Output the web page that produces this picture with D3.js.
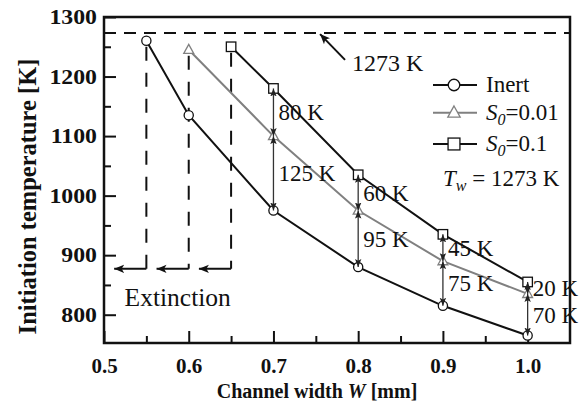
<!DOCTYPE html>
<html>
<head>
<meta charset="utf-8">
<script src="https://cdn.jsdelivr.net/npm/d3@7"></script>
<style>
  html, body { margin: 0; padding: 0; background: #fff; }
  svg { display: block; font-family: "Liberation Serif", "Times New Roman", serif; }
</style>
</head>
<body>
<svg id="chart" width="585" height="405"></svg>
<script>
// Channel widths W [mm] and initiation temperatures [K]
const widthsInert = [0.55, 0.6, 0.7, 0.8, 0.9, 1.0];
const tempInert   = [1260, 1135, 975, 880, 815, 765];
const widthsS001  = [0.6, 0.7, 0.8, 0.9, 1.0];
const tempS001    = [1245, 1100, 975, 890, 835];
const widthsS01   = [0.65, 0.7, 0.8, 0.9, 1.0];
const tempS01     = [1250, 1180, 1035, 935, 855];

const wallTemp = 1273;
const extinctionWidths = [0.55, 0.6, 0.65];
const extinctionTemps  = [1260, 1245, 1250];
const extinctionLevel = 877;

// Temperature gaps marked between curves at each width
const gapWidths  = [0.7, 0.8, 0.9, 1.0];
const gapUpper   = ["80 K", "60 K", "45 K", "20 K"];
const gapLower   = ["125 K", "95 K", "75 K", "70 K"];

const xMajorTicks = [0.5, 0.6, 0.7, 0.8, 0.9, 1.0];
const xMinorTicks = [0.55, 0.65, 0.75, 0.85, 0.95];
const yMajorTicks = [800, 900, 1000, 1100, 1200, 1300];
const yMinorTicks = [850, 950, 1050, 1150, 1250];

const svg = d3.select("#chart");
const L = 104, R = 570, T = 17, B = 343;

const x = d3.scaleLinear().domain([0.5, 1.05]).range([L, R]);
const y = d3.scaleLinear().domain([752.5, 1300]).range([B, T]);

const defs = svg.append("defs");
defs.append("marker").attr("id", "headBlack")
  .attr("viewBox", "0 0 10 10").attr("refX", 10).attr("refY", 5)
  .attr("markerWidth", 10).attr("markerHeight", 10).attr("markerUnits", "userSpaceOnUse")
  .attr("orient", "auto-start-reverse")
  .append("path").attr("d", "M0,0.8 L10,5 L0,9.2 L2.5,5 Z").attr("fill", "#111");
defs.append("marker").attr("id", "headGap")
  .attr("viewBox", "0 0 10 10").attr("refX", 10).attr("refY", 5)
  .attr("markerWidth", 8).attr("markerHeight", 8).attr("markerUnits", "userSpaceOnUse")
  .attr("orient", "auto-start-reverse")
  .append("path").attr("d", "M0,1 L10,5 L0,9 L2,5 Z").attr("fill", "#222");

// Axes with inward ticks
const xAxis = svg.append("g").attr("transform", `translate(0,${B})`)
  .call(d3.axisBottom(x).tickValues(xMajorTicks).tickFormat(d3.format(".1f"))
    .tickSizeInner(-12).tickSizeOuter(0).tickPadding(15));
svg.append("g").attr("transform", `translate(0,${B})`)
  .call(d3.axisBottom(x).tickValues(xMinorTicks).tickFormat("")
    .tickSizeInner(-7).tickSizeOuter(0));
const yAxis = svg.append("g").attr("transform", `translate(${L},0)`)
  .call(d3.axisLeft(y).tickValues(yMajorTicks).tickFormat(d3.format("d"))
    .tickSizeInner(-12).tickSizeOuter(0).tickPadding(7));
svg.append("g").attr("transform", `translate(${L},0)`)
  .call(d3.axisLeft(y).tickValues(yMinorTicks).tickFormat("")
    .tickSizeInner(-7).tickSizeOuter(0));

svg.selectAll(".domain").remove();
svg.selectAll(".tick line").attr("stroke", "#111").attr("stroke-width", 2);
xAxis.selectAll(".tick text").attr("font-size", 21).attr("font-weight", "bold")
  .attr("font-family", "Liberation Serif").attr("fill", "#111");
// Wide bold numerals on the temperature axis
yAxis.selectAll(".tick text").attr("font-size", 20.5).attr("font-weight", "bold")
  .attr("font-family", "Liberation Serif").attr("fill", "#111")
  .attr("x", -6.1).attr("transform", "scale(1.16,1)");

// Frame
svg.append("rect").attr("x", L).attr("y", T).attr("width", R - L).attr("height", B - T)
  .attr("fill", "none").attr("stroke", "#111").attr("stroke-width", 2.5);

// Axis titles
const xt = svg.append("text").attr("x", (L + R) / 2 - 20).attr("y", 398)
  .attr("text-anchor", "middle").attr("font-size", 20).attr("font-weight", "bold").attr("fill", "#111");
xt.append("tspan").text("Channel width ");
xt.append("tspan").attr("font-style", "italic").text("W");
xt.append("tspan").text(" [mm]");

svg.append("text").attr("transform", `translate(36,${(55 + 338) / 2}) rotate(-90)`)
  .attr("text-anchor", "middle").attr("font-size", 24.5).attr("font-weight", "bold").attr("fill", "#111")
  .text("Initiation temperature [K]");

// Wall temperature reference line
svg.append("line").attr("x1", L).attr("x2", R).attr("y1", y(wallTemp)).attr("y2", y(wallTemp))
  .attr("stroke", "#111").attr("stroke-width", 2).attr("stroke-dasharray", "12,8");
svg.append("line")
  .attr("x1", x(0.7845)).attr("y1", y(1228))
  .attr("x2", x(0.755)).attr("y2", y(wallTemp) + 1)
  .attr("stroke", "#111").attr("stroke-width", 2).attr("marker-end", "url(#headBlack)");
svg.append("text").attr("x", x(0.7845) + 7).attr("y", 71).attr("font-size", 24).attr("fill", "#111")
  .text("1273 K");

// Extinction limits
extinctionWidths.forEach((w, i) => {
  svg.append("line").attr("x1", x(w)).attr("x2", x(w))
    .attr("y1", y(extinctionTemps[i]) + 6).attr("y2", y(extinctionLevel))
    .attr("stroke", "#111").attr("stroke-width", 2).attr("stroke-dasharray", "14,12");
  svg.append("line").attr("x1", x(w)).attr("x2", x(w - 0.038))
    .attr("y1", y(extinctionLevel)).attr("y2", y(extinctionLevel))
    .attr("stroke", "#111").attr("stroke-width", 2).attr("marker-end", "url(#headBlack)");
});
svg.append("text").attr("x", x(0.587)).attr("y", 306).attr("text-anchor", "middle")
  .attr("font-size", 25.5).attr("fill", "#111").text("Extinction");

// Series
const series = [
  { w: widthsInert, t: tempInert, color: "#111", shape: "circle", name: "Inert" },
  { w: widthsS001, t: tempS001, color: "#808080", shape: "triangle", name: "S001" },
  { w: widthsS01, t: tempS01, color: "#111", shape: "square", name: "S01" }
];
const line = d3.line().x(d => x(d[0])).y(d => y(d[1]));

function drawMarker(g, shape, cx, cy, color, scale) {
  const s = scale || 1;
  if (shape === "circle") {
    g.append("circle").attr("cx", cx).attr("cy", cy).attr("r", 4.6 * s)
      .attr("fill", "#fff").attr("stroke", color).attr("stroke-width", 1.3);
  } else if (shape === "triangle") {
    const h = 9 * s;
    g.append("path")
      .attr("d", `M${cx},${cy - h * 0.6} L${cx + h * 0.55},${cy + h * 0.4} L${cx - h * 0.55},${cy + h * 0.4} Z`)
      .attr("fill", "#fff").attr("stroke", color).attr("stroke-width", 1.3);
  } else {
    const a = 9.5 * s;
    g.append("rect").attr("x", cx - a / 2).attr("y", cy - a / 2).attr("width", a).attr("height", a)
      .attr("fill", "#fff").attr("stroke", color).attr("stroke-width", 1.3);
  }
}

series.forEach(sr => {
  const pts = sr.w.map((w, i) => [w, sr.t[i]]);
  svg.append("path").datum(pts).attr("d", line)
    .attr("fill", "none").attr("stroke", sr.color).attr("stroke-width", 2);
  const g = svg.append("g");
  pts.forEach(p => drawMarker(g, sr.shape, x(p[0]), y(p[1]), sr.color));
});

// Gap arrows between curves
gapWidths.forEach((w, i) => {
  const iI = widthsInert.indexOf(w), iA = widthsS001.indexOf(w), iB = widthsS01.indexOf(w);
  const tTop = tempS01[iB], tMid = tempS001[iA], tBot = tempInert[iI];
  [[tTop, tMid], [tMid, tBot]].forEach(([a, b]) => {
    svg.append("line").attr("x1", x(w)).attr("x2", x(w)).attr("y1", y(a)).attr("y2", y(b))
      .attr("stroke", "#333").attr("stroke-width", 1.3)
      .attr("marker-start", "url(#headGap)").attr("marker-end", "url(#headGap)");
  });
  svg.append("text").attr("x", x(w) + 5).attr("y", y((tTop + tMid) / 2) + 8)
    .attr("font-size", 23).attr("fill", "#111").text(gapUpper[i]);
  svg.append("text").attr("x", x(w) + 5).attr("y", y((tMid + tBot) / 2) + 8)
    .attr("font-size", 23).attr("fill", "#111").text(gapLower[i]);
});

// Legend
const legend = svg.append("g");
const legendRows = [85, 112.7, 144];
series.forEach((sr, i) => {
  const ly = legendRows[i];
  legend.append("line").attr("x1", 433).attr("x2", 477).attr("y1", ly).attr("y2", ly)
    .attr("stroke", sr.color).attr("stroke-width", 2);
  drawMarker(legend, sr.shape, 454, ly, sr.color, 1.25);
  const t = legend.append("text").attr("x", 486).attr("y", ly + 7).attr("font-size", 23).attr("fill", "#111");
  if (i === 0) {
    t.text("Inert");
  } else {
    t.append("tspan").attr("font-style", "italic").text("S");
    t.append("tspan").attr("font-style", "italic").attr("font-size", 16).attr("dy", 5).text("0");
    t.append("tspan").attr("dy", -5).text(i === 1 ? "=0.01" : "=0.1");
  }
});
const tw = legend.append("text").attr("x", 443).attr("y", 185.5).attr("font-size", 23).attr("fill", "#111");
tw.append("tspan").attr("font-style", "italic").text("T");
tw.append("tspan").attr("font-style", "italic").attr("font-size", 16).attr("dy", 5).text("w");
tw.append("tspan").attr("dy", -5).text(" = 1273 K");
</script>
</body>
</html>
